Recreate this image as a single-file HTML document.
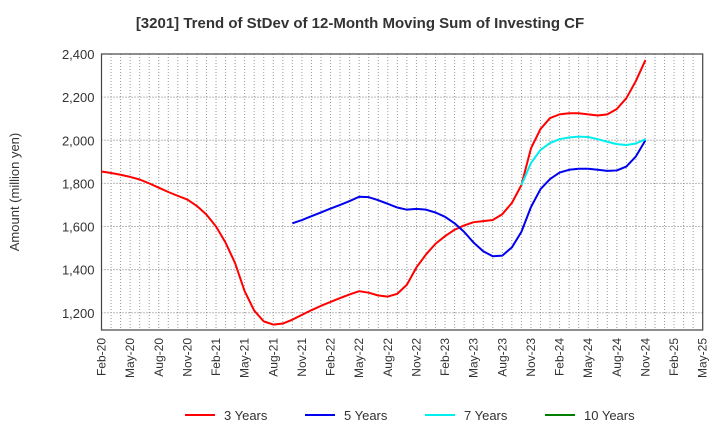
<!DOCTYPE html>
<html><head><meta charset="utf-8"><style>
body{margin:0;background:#fff;font-family:"Liberation Sans",sans-serif;}
</style></head><body>
<svg id="c" width="720" height="440" xmlns="http://www.w3.org/2000/svg">
<text x="360" y="28" text-anchor="middle" font-size="15" font-weight="bold" fill="#333">[3201]  Trend of StDev of 12-Month Moving Sum of Investing CF</text>
<text transform="translate(19,192) rotate(-90)" text-anchor="middle" font-size="13" fill="#333">Amount (million yen)</text>
<g id="grid"></g><g id="axes"></g><g id="series"></g><g id="legend"></g>
</svg>
<script>
const yTicks=[1200,1400,1600,1800,2000,2200,2400];
const xLabels=["Feb-20","May-20","Aug-20","Nov-20","Feb-21","May-21","Aug-21","Nov-21","Feb-22","May-22","Aug-22","Nov-22","Feb-23","May-23","Aug-23","Nov-23","Feb-24","May-24","Aug-24","Nov-24","Feb-25","May-25"];
const y3=[1855,1848,1840,1830,1818,1800,1780,1760,1742,1725,1695,1655,1600,1525,1430,1300,1210,1160,1145,1150,1168,1190,1212,1232,1250,1268,1285,1300,1293,1280,1275,1288,1330,1410,1470,1520,1555,1585,1605,1620,1625,1630,1657,1709,1792,1962,2052,2103,2120,2125,2125,2120,2115,2120,2145,2195,2275,2372];
const y5Start=20;
const y5=[1615,1630,1648,1665,1683,1700,1718,1738,1736,1722,1705,1688,1678,1682,1678,1665,1645,1615,1575,1525,1485,1462,1465,1503,1575,1690,1773,1820,1850,1863,1868,1868,1863,1858,1860,1878,1925,2000];
const y7Start=44;
const y7=[1792,1894,1955,1987,2005,2013,2017,2015,2005,1993,1982,1978,1985,2005];
const L=101.5,R=702.7,T=54,B=330,yMin=1120,yMax=2400,nMonths=63;
const X=m=>L+(R-L)*m/nMonths;
const Y=v=>B-(B-T)*(v-yMin)/(yMax-yMin);
const NS="http://www.w3.org/2000/svg";
function mk(t,a,p){const e=document.createElementNS(NS,t);for(const k in a)e.setAttribute(k,a[k]);p.appendChild(e);return e;}
const grid=document.getElementById('grid'),axes=document.getElementById('axes'),ser=document.getElementById('series'),leg=document.getElementById('legend');
for(let m=1;m<nMonths;m++){const l=mk('line',{x1:X(m),x2:X(m),y1:T,y2:B,stroke:'#999','stroke-dasharray':'1,2','stroke-width':1},grid);

}
yTicks.forEach(v=>{const l=mk('line',{x1:L,x2:R,y1:Y(v),y2:Y(v),stroke:'#777','stroke-dasharray':'1,2','stroke-width':1},grid);


const t=mk('text',{x:L-7,y:Y(v)+5,'text-anchor':'end','font-size':13,fill:'#333'},axes);t.textContent=v.toLocaleString('en-US');

});
xLabels.forEach((s,i)=>{const x=X(i*3);const t=mk('text',{transform:`translate(${x+4},${B+8}) rotate(-90)`,'text-anchor':'end','font-size':12,fill:'#333'},axes);t.textContent=s;

});
const fr=mk('rect',{x:L,y:T,width:R-L,height:B-T,fill:'none',stroke:'#444','stroke-width':1.2},axes);


function line(arr,start,col,name){const p=mk('polyline',{points:arr.map((v,i)=>X(start+i)+','+Y(v)).join(' '),fill:'none',stroke:col,'stroke-width':2,'stroke-linejoin':'round'},ser);

}
line(y3,0,'#ff0000','series-3-years');
line(y5,y5Start,'#0000ee','series-5-years');
line(y7,y7Start,'#00eeee','series-7-years');
const legItems=[["3 Years","#ff0000",185],["5 Years","#0000ee",305],["7 Years","#00eeee",425],["10 Years","#008000",545]];
legItems.forEach(([s,c,x])=>{const l=mk('line',{x1:x,x2:x+30,y1:415,y2:415,stroke:c,'stroke-width':2},leg);


const t=mk('text',{x:x+39,y:420,'font-size':13,fill:'#333'},leg);t.textContent=s;

});
</script>
</body></html>
